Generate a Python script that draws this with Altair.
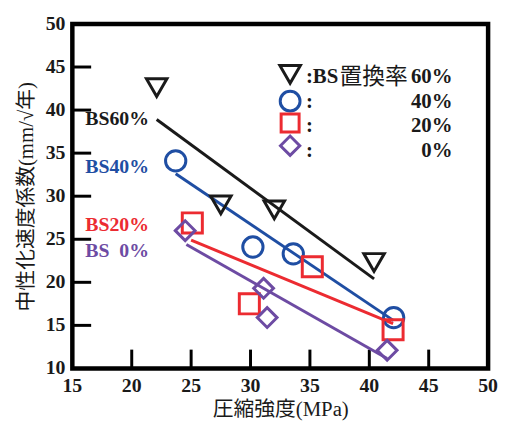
import altair as alt
import pandas as pd

# ---- data ----
series = ["60%", "40%", "20%", "0%"]
colors = ["#1a1a1a", "#1f4ea3", "#ec2b31", "#6d4ba3"]
shapes = ["triangle-down", "circle", "square", "diamond"]
sizes = [430, 400, 330, 380]

strength_60 = [22.1, 27.5, 32.0, 40.4]
coef_60 = [42.6, 29.0, 28.4, 22.3]
strength_40 = [23.7, 30.2, 33.6, 42.05]
coef_40 = [34.1, 24.1, 23.3, 15.9]
strength_20 = [25.1, 29.9, 35.2, 42.0]
coef_20 = [26.9, 17.5, 21.8, 14.5]
strength_0 = [24.5, 31.1, 31.4, 41.5]
coef_0 = [26.0, 19.3, 15.9, 12.1]

fit_x_60 = [22.1, 40.4]
fit_y_60 = [38.9, 20.4]
fit_x_40 = [23.7, 42.05]
fit_y_40 = [32.6, 15.55]
fit_x_20 = [25.0, 42.0]
fit_y_20 = [24.9, 15.2]
fit_x_0 = [24.6, 41.5]
fit_y_0 = [24.4, 11.15]

x_ticks = [15, 20, 25, 30, 35, 40, 45, 50]
y_ticks = [10, 15, 20, 25, 30, 35, 40, 45, 50]

label_texts = ["BS60%", "BS40%", "BS20%", "BS\u20070%"]
legend_left = [":BS", ":", ":", ":"]
legend_word = "置換率"
legend_right = ["60%", "40%", "20%", "0%"]

x_title = "圧縮強度(MPa)"
y_title = "中性化速度係数(mm/√年)"

# ---- layout (pixels inside the plot area) ----
W, H = 420, 348
TICK_LEN = 19
label_x_px = 13
label_y_px = [102, 151, 209, 235]
legend_marker_x = 220
legend_marker_y = [51, 78, 100, 123]
legend_colon_x = 236
legend_word_x = 270
legend_right_x = 384
legend_text_y = [60, 85, 109, 134]

FONT = "Liberation Serif, Noto Sans CJK JP"
TEXT_COLOR = "#1a1a1a"

# ---- tables ----
pts = pd.DataFrame({
    "strength": strength_60 + strength_40 + strength_20 + strength_0,
    "coef": coef_60 + coef_40 + coef_20 + coef_0,
    "series": ["60%"] * 4 + ["40%"] * 4 + ["20%"] * 4 + ["0%"] * 4,
})
fits = pd.DataFrame({
    "strength": fit_x_60 + fit_x_40 + fit_x_20 + fit_x_0,
    "coef": fit_y_60 + fit_y_40 + fit_y_20 + fit_y_0,
    "series": ["60%"] * 2 + ["40%"] * 2 + ["20%"] * 2 + ["0%"] * 2,
})

x_scale = alt.Scale(domain=[15, 50], nice=False, zero=False)
y_scale = alt.Scale(domain=[10, 50], nice=False, zero=False)
x_axis = alt.Axis(values=x_ticks, title=x_title, labels=False, titlePadding=31)
y_axis = alt.Axis(values=y_ticks, title=y_title, labels=False, titlePadding=36)

color_scale = alt.Scale(domain=series, range=colors)
shape_scale = alt.Scale(domain=series, range=shapes)
size_scale = alt.Scale(domain=series, range=sizes)

lines = alt.Chart(fits).mark_line(strokeWidth=3).encode(
    x=alt.X("strength:Q", scale=x_scale, axis=x_axis),
    y=alt.Y("coef:Q", scale=y_scale, axis=y_axis),
    color=alt.Color("series:N", scale=color_scale, legend=None),
    detail="series:N",
)

points = alt.Chart(pts).mark_point(filled=False, strokeWidth=3, opacity=1).encode(
    x=alt.X("strength:Q", scale=x_scale, axis=x_axis),
    y=alt.Y("coef:Q", scale=y_scale, axis=y_axis),
    color=alt.Color("series:N", scale=color_scale, legend=None),
    shape=alt.Shape("series:N", scale=shape_scale, legend=None),
    size=alt.Size("series:N", scale=size_scale, legend=None),
)

x_tick_df = pd.DataFrame({"v": x_ticks})
y_tick_df = pd.DataFrame({"v": y_ticks})

xt = alt.Chart(x_tick_df[1:-1]).mark_rule(color="black", strokeWidth=3).encode(
    x=alt.X("v:Q", scale=x_scale, axis=x_axis),
    y=alt.value(H),
    y2=alt.value(H - TICK_LEN),
)
yt = alt.Chart(y_tick_df[1:-1]).mark_rule(color="black", strokeWidth=3).encode(
    y=alt.Y("v:Q", scale=y_scale, axis=y_axis),
    x=alt.value(0),
    x2=alt.value(TICK_LEN),
)

xl = alt.Chart(x_tick_df).mark_text(
    font=FONT, fontSize=20, fontWeight="bold", align="center", baseline="top",
    color=TEXT_COLOR
).encode(
    x=alt.X("v:Q", scale=x_scale, axis=x_axis),
    y=alt.value(H + 8),
    text=alt.Text("v:Q"),
)
yl = alt.Chart(y_tick_df).mark_text(
    font=FONT, fontSize=20, fontWeight="bold", align="right", baseline="middle",
    color=TEXT_COLOR
).encode(
    y=alt.Y("v:Q", scale=y_scale, axis=y_axis),
    x=alt.value(-7),
    text=alt.Text("v:Q"),
)

layers = [xt, yt, xl, yl, lines, points]
one = pd.DataFrame({"a": [0]})

for i, s in enumerate(series):
    layers.append(
        alt.Chart(one).mark_text(
            text=label_texts[i], font=FONT, fontSize=20, fontWeight="bold",
            align="left", baseline="alphabetic", color=colors[i]
        ).encode(x=alt.value(label_x_px), y=alt.value(label_y_px[i]))
    )
    layers.append(
        alt.Chart(one).mark_point(
            shape=shapes[i], filled=False, strokeWidth=3, size=sizes[i],
            color=colors[i], opacity=1
        ).encode(x=alt.value(legend_marker_x), y=alt.value(legend_marker_y[i]))
    )
    layers.append(
        alt.Chart(one).mark_text(
            text=legend_left[i], font=FONT, fontSize=21, fontWeight="bold",
            align="left", baseline="alphabetic", color=TEXT_COLOR
        ).encode(x=alt.value(legend_colon_x), y=alt.value(legend_text_y[i]))
    )
    layers.append(
        alt.Chart(one).mark_text(
            text=legend_right[i], font=FONT, fontSize=21, fontWeight="bold",
            align="right", baseline="alphabetic", color=TEXT_COLOR
        ).encode(x=alt.value(legend_right_x), y=alt.value(legend_text_y[i]))
    )

layers.append(
    alt.Chart(one).mark_text(
        text=legend_word, font=FONT, fontSize=23, fontWeight="normal",
        align="left", baseline="alphabetic", color=TEXT_COLOR
    ).encode(x=alt.value(legend_word_x), y=alt.value(legend_text_y[0] + 1))
)

chart = alt.layer(*layers).properties(
    width=W,
    height=H,
    autosize=alt.AutoSizeParams(type="none"),
    padding={"left": 65, "top": 14, "right": 10, "bottom": 52},
).configure_view(
    stroke="black", strokeWidth=4.5
).configure_axis(
    grid=False, ticks=False, domain=False,
    titleFont=FONT, titleFontSize=21, titleFontWeight="normal", titleColor=TEXT_COLOR,
)

chart.save("out.html", embed_options={"renderer": "svg", "actions": False})
